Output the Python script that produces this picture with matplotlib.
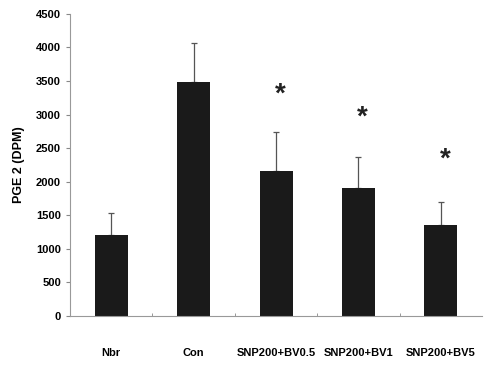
import numpy as np
import matplotlib
matplotlib.use('Agg')
import matplotlib.pyplot as plt

# Data
groups = ['Nbr', 'Con', 'SNP200+BV0.5', 'SNP200+BV1', 'SNP200+BV5']
means = [1210, 3480, 2160, 1910, 1360]
errors = [330, 590, 580, 460, 340]
star_y = [None, None, 3300, 2950, 2330]
yticks = [0, 500, 1000, 1500, 2000, 2500, 3000, 3500, 4000, 4500]

plt.rcParams['font.family'] = ['Liberation Sans', 'DejaVu Sans']

fig = plt.figure(figsize=(4.97, 3.66), dpi=100)
ax = fig.add_axes([0.141, 0.137, 0.829, 0.825])

x = np.arange(len(groups))
ax.bar(x, means, width=0.4, color='#1a1a1a', zorder=2)
ax.errorbar(x, means, yerr=[np.zeros(len(errors)), errors], fmt='none',
            ecolor='#555555', elinewidth=0.9, capsize=2.5, capthick=0.9, zorder=1)

for xi, sy in zip(x, star_y):
    if sy is not None:
        ax.text(xi + 0.05, sy, '*', ha='center', va='center', fontsize=20,
                fontweight='bold', color='#222222')

ax.set_xlim(-0.5, len(groups) - 0.5)
ax.set_ylim(0, 4500)
ax.set_yticks(yticks)
ax.set_yticklabels([str(v) for v in yticks], fontsize=8, fontweight='bold')
ax.set_xticks(x)
ax.set_xticklabels(groups, fontsize=8, fontweight='bold')
ax.set_xticks(np.arange(0.5, len(groups) - 0.5, 1.0), minor=True)
ax.tick_params(axis='x', which='major', length=0, pad=23)
ax.tick_params(axis='x', which='minor', length=2, color='#888888', direction='in')
ax.tick_params(axis='y', length=3, color='#888888', width=0.8)

ax.set_ylabel('PGE 2 (DPM)', fontsize=9, fontweight='bold', labelpad=8)

for side in ['top', 'right']:
    ax.spines[side].set_visible(False)
for side in ['left', 'bottom']:
    ax.spines[side].set_color('#999999')
    ax.spines[side].set_linewidth(0.8)

plt.savefig('out.png', dpi=100)
